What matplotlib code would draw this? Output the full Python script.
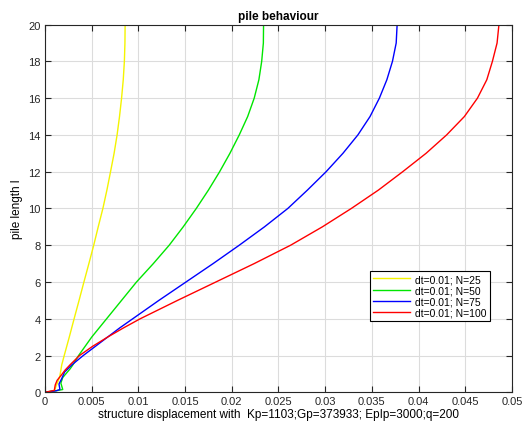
import matplotlib
matplotlib.use('Agg')
import matplotlib.pyplot as plt

plt.rcParams['font.family'] = ['Liberation Sans', 'DejaVu Sans']

# pile length (y) against structure displacement (x) for each run
y_n25 = [0, 0.08, 0.35, 0.6, 0.9, 1.5, 2, 3, 4, 5, 6, 7, 8, 9, 10, 11, 12, 13, 14,
         15, 16, 17, 18, 19, 20]
x_n25 = [0, 0.0010, 0.0012, 0.0014, 0.0016, 0.0018, 0.00206, 0.0026, 0.00312,
         0.00365, 0.00417, 0.0047, 0.00522, 0.0057, 0.0062, 0.00663, 0.00702,
         0.0074, 0.00772, 0.00798, 0.0082, 0.00838, 0.0085, 0.00856, 0.00858]

y_n50 = [0, 0.1, 0.15, 0.5, 0.8, 1.28, 1.5, 2, 2.5, 3, 3.5, 4, 5, 6, 7, 8, 9, 10,
         11, 12, 13, 14, 15, 16, 17, 18, 19, 20]
x_n50 = [0, 0.0014, 0.0019, 0.0017, 0.0019, 0.0027, 0.0030, 0.0036, 0.0043, 0.0050,
         0.0058, 0.0066, 0.0082, 0.0098, 0.0116, 0.0133, 0.0148, 0.0162, 0.0175,
         0.0187, 0.0198, 0.0208, 0.0217, 0.0224, 0.0229, 0.0232, 0.02338, 0.0234]

y_n75 = [0, 0.08, 0.15, 0.45, 0.75, 1.1, 1.5, 2, 2.5, 3, 3.5, 4, 5, 6, 7, 8, 9, 10,
         11, 12, 13, 14, 15, 16, 17, 18, 19, 20]
x_n75 = [0, 0.0012, 0.0016, 0.0015, 0.0018, 0.0021, 0.0029, 0.0041, 0.0054, 0.0067,
         0.0080, 0.0094, 0.0122, 0.0151, 0.0180, 0.0208, 0.0235, 0.0260, 0.0281,
         0.0301, 0.0319, 0.0335, 0.0348, 0.0358, 0.0366, 0.0372, 0.0376, 0.0377]

y_n100 = [0, 0.1, 0.4, 0.65, 0.9, 1.2, 1.5, 2, 2.5, 3, 3.5, 4, 5, 6, 7, 8, 9, 10,
          11, 12, 13, 14, 15, 16, 17, 18, 19, 20]
x_n100 = [0, 0.0010, 0.0011, 0.0013, 0.0017, 0.00214, 0.0027, 0.0037, 0.0051,
          0.0067, 0.0084, 0.0102, 0.0142, 0.0183, 0.0224, 0.0263, 0.0297, 0.0328,
          0.0357, 0.0383, 0.0408, 0.0430, 0.0449, 0.0463, 0.0473, 0.0479, 0.0484,
          0.0486]

labels = ['dt=0.01; N=25', 'dt=0.01; N=50', 'dt=0.01; N=75', 'dt=0.01; N=100']

fig = plt.figure(figsize=(5.23, 4.27), dpi=100)
ax = fig.add_axes([0.086, 0.079, 0.893, 0.861])

ax.plot(x_n25, y_n25, color='#f4f400', lw=1, label=labels[0])
ax.plot(x_n50, y_n50, color='#00e600', lw=1, label=labels[1])
ax.plot(x_n75, y_n75, color='#0000ff', lw=1, label=labels[2])
ax.plot(x_n100, y_n100, color='#ff0000', lw=1, label=labels[3])

ax.set_xlim(0, 0.05)
ax.set_ylim(0, 20)
ax.set_xticks([0, 0.005, 0.01, 0.015, 0.02, 0.025, 0.03, 0.035, 0.04, 0.045, 0.05])
ax.set_xticklabels(['0', '0.005', '0.01', '0.015', '0.02', '0.025', '0.03',
                    '0.035', '0.04', '0.045', '0.05'])
ax.set_yticks(range(0, 21, 2))
ax.tick_params(direction='in', top=True, right=True, labelsize=8, length=4,
               colors='#262626', pad=3)
ax.grid(True, color='#dcdcdc', lw=0.8)
for sp in ax.spines.values():
    sp.set_color('#262626')

ax.set_title('pile behaviour', fontsize=8.5, fontweight='bold', pad=4)
ax.set_xlabel('structure displacement with  Kp=1103;Gp=373933; EpIp=3000;q=200',
              fontsize=8.5, labelpad=1)
ax.set_ylabel('pile length l', fontsize=8.5, labelpad=4)

leg = ax.legend(loc='upper right', bbox_to_anchor=(0.953, 0.330), fontsize=7.5,
                fancybox=False, framealpha=1, edgecolor='black', handlelength=3.6,
                borderpad=0.3, labelspacing=0.12, handletextpad=0.5,
                borderaxespad=0)
leg.get_frame().set_linewidth(0.8)

fig.savefig('out.png', dpi=100)
